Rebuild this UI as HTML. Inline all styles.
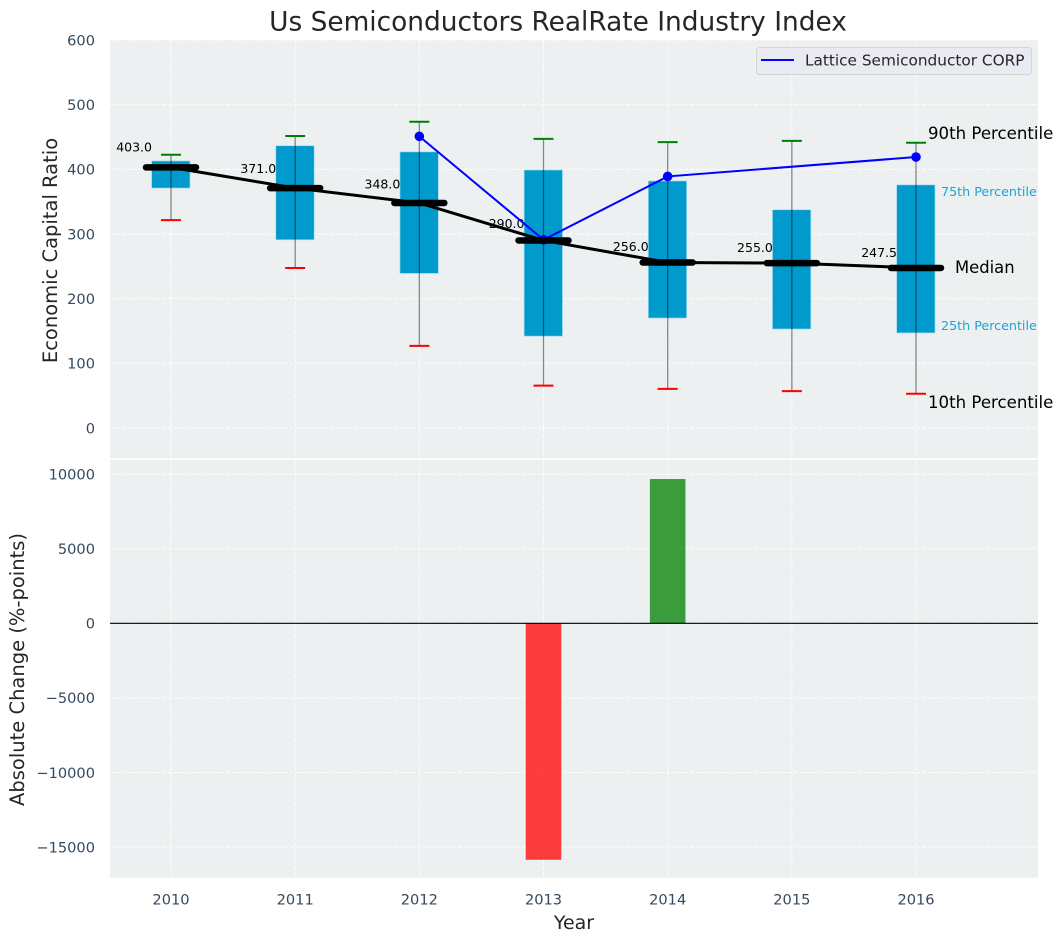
<!DOCTYPE html>
<html>
<head>
<meta charset="utf-8">
<title>Us Semiconductors RealRate Industry Index</title>
<style>
html,body{margin:0;padding:0;background:#fff;width:1063px;height:942px;overflow:hidden}
svg{display:block}
text{font-family:"DejaVu Sans","Liberation Sans",sans-serif}
</style>
</head>
<body>
<svg id="chart" xmlns="http://www.w3.org/2000/svg" width="1063" height="942" viewBox="0 0 1063 942"></svg>
<script>
const years = [2010, 2011, 2012, 2013, 2014, 2015, 2016];
const p90 = [422.5, 451.5, 473.5, 447, 442, 444, 441];
const q3 = [413, 436.5, 427, 399, 382, 337.5, 376];
const median = [403, 371, 348, 290, 256, 255, 247.5];
const q1 = [371, 291, 239, 142, 170, 153, 147];
const p10 = [321.5, 247.5, 127, 65.5, 60.5, 57, 53];
const lattice = [null, null, 451, 291, 389, null, 419];
const changeValues = [null, null, null, -15850, 9670, null, null];
const ratioTicks = [0, 100, 200, 300, 400, 500, 600];
const changeTicks = [-15000, -10000, -5000, 0, 5000, 10000];

const svg = document.getElementById('chart');
const NS = 'http://www.w3.org/2000/svg';
const L = 110, R = 1038, T1 = 40, B1 = 458, T2 = 459.7, B2 = 877.7;
const xS = y => 171 + (y - 2010) * 124.17;
const yTop = v => 428 - v * 0.6467;
const yBot = v => 623.3 - v * 0.01492;

function mk(tag, attrs, text) {
  const el = document.createElementNS(NS, tag);
  for (const k in attrs) el.setAttribute(k, attrs[k]);
  if (text !== undefined) el.textContent = text;
  svg.appendChild(el);
  return el;
}
function label(s) { return String(s).replace('-', '\u2212'); }
let el;

// panels
el = mk('rect', {x: L, y: T1, width: R - L, height: B1 - T1, fill: '#ecf0f1'});


el = mk('rect', {x: L, y: T2, width: R - L, height: B2 - T2, fill: '#ecf0f1'});



const gridStyle = {stroke: '#ffffff', 'stroke-width': 1, 'stroke-dasharray': '4 1.8', 'stroke-opacity': 0.85};

// grid and ticks: years
years.forEach(y => {
  let g = mk('line', Object.assign({x1: xS(y), x2: xS(y), y1: T1, y2: B1}, gridStyle));
  
  
  g = mk('line', Object.assign({x1: xS(y), x2: xS(y), y1: T2, y2: B2}, gridStyle));
  
  
  const t = mk('text', {x: xS(y), y: 904.5, 'text-anchor': 'middle', 'font-size': 14.6, fill: '#34495e'}, y);
  
  
});

// grid and ticks: ratio axis
ratioTicks.forEach(v => {
  const g = mk('line', Object.assign({x1: L, x2: R, y1: yTop(v), y2: yTop(v)}, gridStyle));
  
  
  const t = mk('text', {x: 95, y: yTop(v) + 5.3, 'text-anchor': 'end', 'font-size': 14.6, fill: '#34495e'}, label(v));
  
  
});

// grid and ticks: change axis
changeTicks.forEach(v => {
  const g = mk('line', Object.assign({x1: L, x2: R, y1: yBot(v), y2: yBot(v)}, gridStyle));
  
  
  const t = mk('text', {x: 95, y: yBot(v) + 5.3, 'text-anchor': 'end', 'font-size': 14.6, fill: '#34495e'}, label(v));
  
  
});

// median value labels, beneath the boxes
years.forEach((y, i) => {
  const t = mk('text', {x: xS(y) - 19, y: yTop(median[i] * 1.05) - 3, 'text-anchor': 'end', 'font-size': 12.5, fill: '#000'}, median[i].toFixed(1));
  
  
});

// boxes
years.forEach((y, i) => {
  const b = mk('rect', {x: xS(y) - 19.4, y: yTop(q3[i]), width: 38.4, height: yTop(q1[i]) - yTop(q3[i]), fill: '#009acd', stroke: '#a8dcee', 'stroke-width': 0.7});
  
  
});

// whiskers and caps
years.forEach((y, i) => {
  const w = mk('line', {x1: xS(y), x2: xS(y), y1: yTop(p90[i]), y2: yTop(p10[i]), stroke: '#000', 'stroke-opacity': 0.45, 'stroke-width': 1.3});
  
  
  const c1 = mk('line', {x1: xS(y) - 10, x2: xS(y) + 10, y1: yTop(p90[i]), y2: yTop(p90[i]), stroke: '#008000', 'stroke-width': 2});
  
  
  const c2 = mk('line', {x1: xS(y) - 10, x2: xS(y) + 10, y1: yTop(p10[i]), y2: yTop(p10[i]), stroke: '#ff0000', 'stroke-width': 2});
  
  
});

// lattice line
const latticePts = [];
years.forEach((y, i) => { if (lattice[i] !== null) latticePts.push(xS(y) + ',' + yTop(lattice[i])); });
el = mk('polyline', {points: latticePts.join(' '), fill: 'none', stroke: '#0000ff', 'stroke-width': 2});


years.forEach((y, i) => {
  if (lattice[i] === null) return;
  const p = mk('circle', {cx: xS(y), cy: yTop(lattice[i]), r: 4.8, fill: '#0000ff'});
  
  
});

// median trend
el = mk('polyline', {points: years.map((y, i) => xS(y) + ',' + yTop(median[i])).join(' '), fill: 'none', stroke: '#000', 'stroke-width': 3});


years.forEach((y, i) => {
  const m = mk('line', {x1: xS(y) - 25, x2: xS(y) + 25, y1: yTop(median[i]), y2: yTop(median[i]), stroke: '#000', 'stroke-width': 6.5, 'stroke-linecap': 'round'});
  
  
});

// change bars
years.forEach((y, i) => {
  const v = changeValues[i];
  if (v === null) return;
  const b = mk('rect', {x: xS(y) - 17.8, y: Math.min(yBot(v), yBot(0)), width: 35.6, height: Math.abs(yBot(v) - yBot(0)), fill: v < 0 ? '#ff0000' : '#008000', 'fill-opacity': 0.75});
  
  
});
el = mk('line', {x1: L, x2: R, y1: yBot(0), y2: yBot(0), stroke: '#000', 'stroke-width': 1.2});



// percentile annotations
el = mk('text', {x: 928, y: 139, 'font-size': 16.6, fill: '#000'}, '90th Percentile');


el = mk('text', {x: 941, y: 196, 'font-size': 12.7, fill: '#1fa3d1'}, '75th Percentile');


el = mk('text', {x: 955, y: 273, 'font-size': 16.4, fill: '#000'}, 'Median');


el = mk('text', {x: 941, y: 330, 'font-size': 12.7, fill: '#1fa3d1'}, '25th Percentile');


el = mk('text', {x: 928, y: 408, 'font-size': 16.6, fill: '#000'}, '10th Percentile');



// legend
el = mk('rect', {x: 756.5, y: 47.5, width: 275, height: 27, rx: 3, fill: '#eaeaf2', stroke: '#d3d3d8', 'stroke-width': 1});


el = mk('line', {x1: 761, x2: 794, y1: 60, y2: 60, stroke: '#0000ff', 'stroke-width': 2});


el = mk('text', {x: 805, y: 65.5, 'font-size': 15.3, fill: '#262626'}, 'Lattice Semiconductor CORP');



// titles
el = mk('text', {x: 558, y: 30.5, 'text-anchor': 'middle', 'font-size': 26.4, fill: '#262626'}, 'Us Semiconductors RealRate Industry Index');


el = mk('text', {x: 574, y: 929, 'text-anchor': 'middle', 'font-size': 19, fill: '#262626'}, 'Year');


el = mk('text', {x: 0, y: 0, transform: 'translate(57,250.5) rotate(-90)', 'text-anchor': 'middle', 'font-size': 19.5, fill: '#262626'}, 'Economic Capital Ratio');


el = mk('text', {x: 0, y: 0, transform: 'translate(24,669.5) rotate(-90)', 'text-anchor': 'middle', 'font-size': 19.5, fill: '#262626'}, 'Absolute Change (%-points)');


</script>
</body>
</html>
